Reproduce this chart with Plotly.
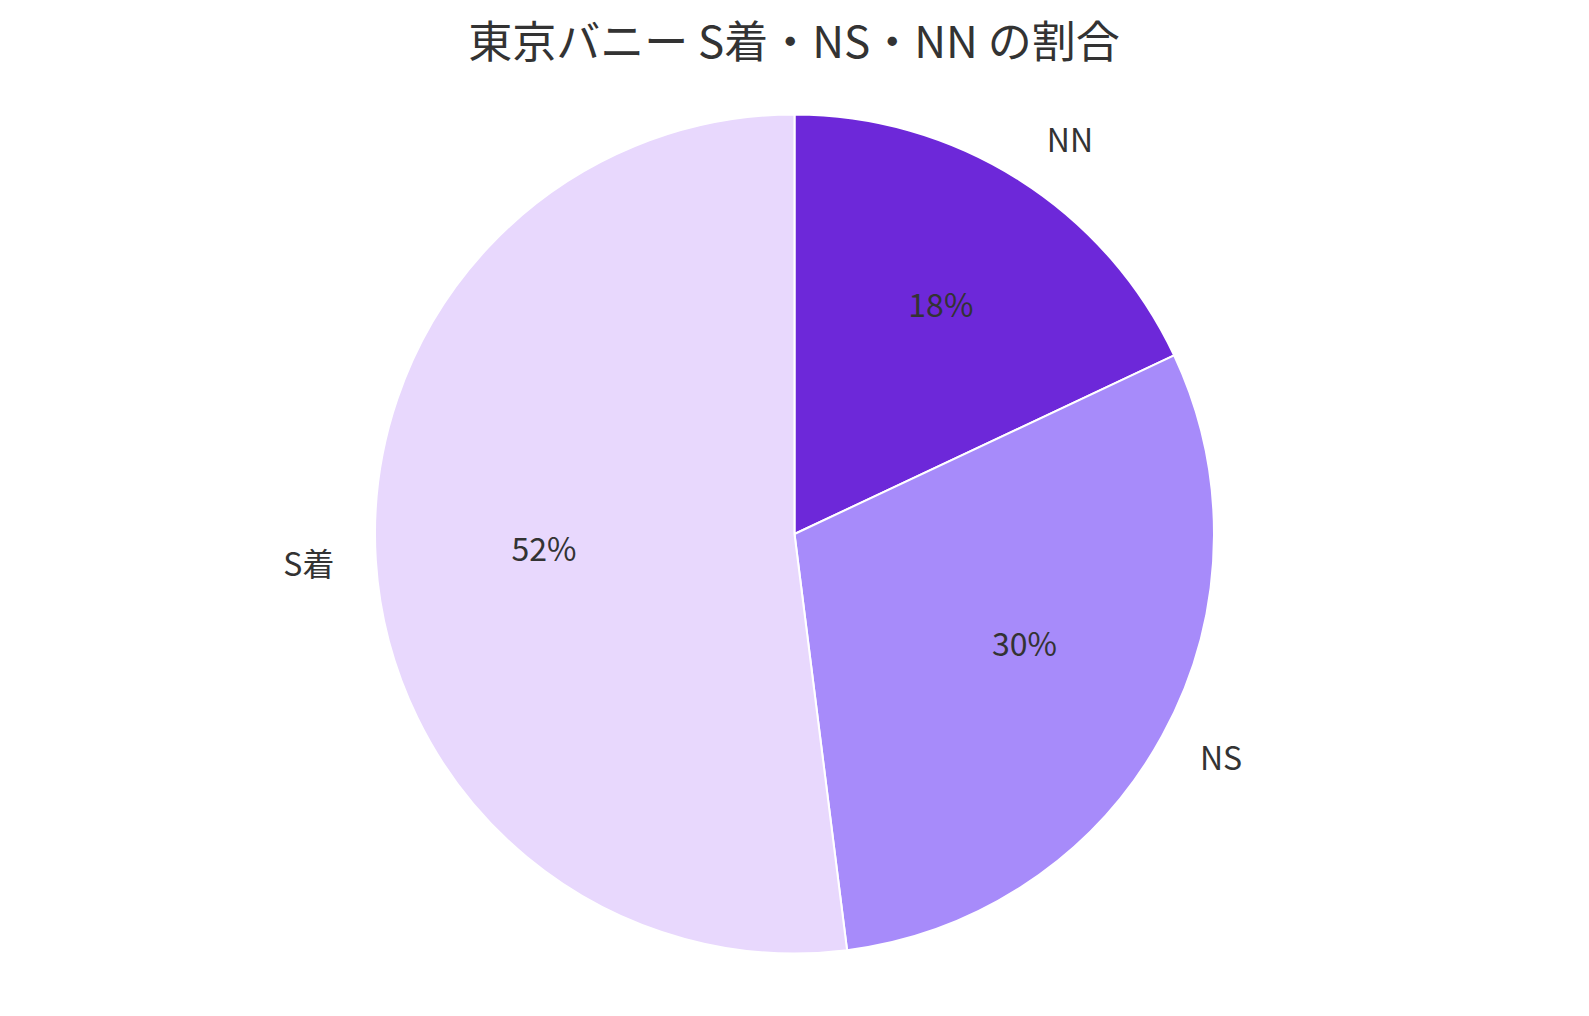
import plotly.graph_objects as go

title_text = "東京バニー S着・NS・NN の割合"
categories = ["NN", "NS", "S着"]
values = [18, 30, 52]
colors = ["#6d28d9", "#a78bfa", "#e8d8fd"]

W, H = 1589, 1016
cx, cy, r = 786.5, 526, 419.5
font_family = "Noto Sans CJK JP"
text_color = "#333333"
pct = "%{percent:.0%}"

def dom(rad):
    return dict(
        x=[(cx - rad) / W, (cx + rad) / W],
        y=[(H - cy - rad) / H, (H - cy + rad) / H],
    )

helper_pull = [0, 0.025, 0]

fig = go.Figure()
# main pie (percentage of the small slice drawn inside)
fig.add_trace(go.Pie(
    labels=categories, values=values, sort=False, direction="clockwise", rotation=0,
    marker=dict(colors=colors, line=dict(color="#ffffff", width=2)),
    textposition="inside", insidetextorientation="horizontal",
    texttemplate=[pct, "", ""],
    textfont=dict(family=font_family, size=32, color=text_color),
    domain=dom(r), showlegend=False,
))
# transparent helper pie placing the other percentages at mid radius
fig.add_trace(go.Pie(
    labels=categories, values=values, sort=False, direction="clockwise", rotation=0,
    marker=dict(colors=["rgba(0,0,0,0)"] * 3, line=dict(width=0)),
    textposition="outside", texttemplate=["", pct, pct], pull=helper_pull,
    textfont=dict(family=font_family, size=32, color=text_color),
    domain=dom(207 * (1 + max(helper_pull))), showlegend=False, hoverinfo="skip",
))
# transparent helper pie carrying the category labels outside
fig.add_trace(go.Pie(
    labels=categories, values=values, sort=False, direction="clockwise", rotation=0,
    marker=dict(colors=["rgba(0,0,0,0)"] * 3, line=dict(width=0)),
    textinfo="label", textposition="outside",
    textfont=dict(family=font_family, size=32, color=text_color),
    domain=dom(r + 30), showlegend=False, hoverinfo="skip",
))
fig.update_layout(
    width=W, height=H,
    margin=dict(l=0, r=0, t=0, b=0),
    paper_bgcolor="#ffffff",
    title=dict(text=title_text, x=786 / W, xanchor="center", y=1 - 35 / H, yanchor="middle",
               font=dict(family=font_family, size=44, color=text_color)),
    font=dict(family=font_family, color=text_color),
)
fig.write_html("out.html")
